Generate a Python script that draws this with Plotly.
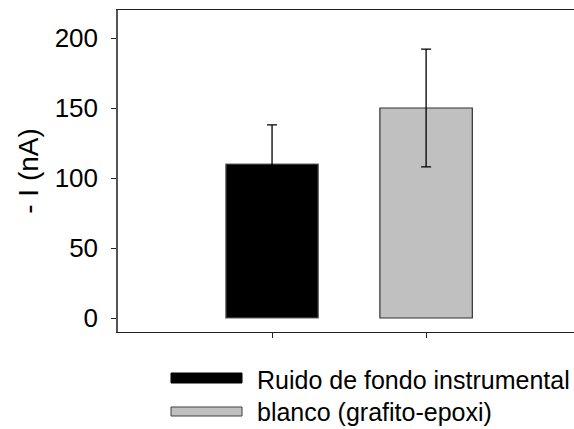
import plotly.graph_objects as go

# Data
categories = ["Ruido de fondo instrumental", "blanco (grafito-epoxi)"]
current_nA = [110, 150]
error_nA = [28, 42]
bar_colors = ["#000000", "#c0c0c0"]
bar_edges = ["#606060", "#303030"]
y_ticks = [0, 50, 100, 150, 200]

FONT = "Liberation Sans Narrow, Arial Narrow, Liberation Sans, Arial, sans-serif"

W, H = 574, 429
L, R, T, B = 118, 0, 10, 97
plot_w = W - L - R
plot_h = H - T - B


def px_x(x):
    return (x - L) / plot_w


def px_y(y):
    return (H - B - y) / plot_h


fig = go.Figure()
fig.add_trace(go.Bar(
    x=[0, 1],
    y=current_nA,
    width=0.6,
    marker=dict(color=bar_colors, line=dict(color=bar_edges, width=1.2)),
    error_y=dict(type="data", array=error_nA, visible=True,
                 color="#000000", thickness=1.3, width=5),
    showlegend=False,
))

# Legend drawn below the plot: wide swatch + label
# (swatch centre, swatch height, text centre, fill, edge)
legend_rows = [(378, 10, 380, bar_colors[0], "#000000"),
               (411.5, 9, 412, bar_colors[1], "#404040")]
shapes = []
annotations = []
for (cy, h, ty, fill, edge), name in zip(legend_rows, categories):
    shapes.append(dict(type="rect", xref="paper", yref="paper",
                       x0=px_x(171), x1=px_x(242),
                       y0=px_y(cy + h / 2), y1=px_y(cy - h / 2),
                       fillcolor=fill, line=dict(color=edge, width=1)))
    annotations.append(dict(xref="paper", yref="paper", x=px_x(255), y=px_y(ty),
                            text=name, showarrow=False, xanchor="left",
                            yanchor="middle",
                            font=dict(family=FONT, size=25, color="#000000")))

fig.update_layout(
    width=W, height=H,
    margin=dict(l=L, r=R, t=T, b=B, pad=0),
    paper_bgcolor="white", plot_bgcolor="white",
    font=dict(family=FONT, color="#000000"),
    shapes=shapes,
    annotations=annotations,
    xaxis=dict(
        range=[-1, 1.96], tickvals=[0, 1], showticklabels=False,
        ticks="outside", ticklen=5, tickwidth=1.3, tickcolor="#222222",
        showline=True, linecolor="#222222", linewidth=1.3, mirror=True,
        showgrid=False, zeroline=False,
    ),
    yaxis=dict(
        range=[-10, 220], tickvals=y_ticks,
        ticks="outside", ticklen=5, tickwidth=1.3, tickcolor="#222222",
        showline=True, linecolor="#555555", linewidth=1.5,
        showgrid=False, zeroline=False,
        tickfont=dict(family=FONT, size=26, color="#000000"),
        ticklabelstandoff=8,
        title=dict(text="- I (nA)", font=dict(family=FONT, size=28, color="#000000"),
                   standoff=8),
    ),
)

fig.write_html("out.html")
